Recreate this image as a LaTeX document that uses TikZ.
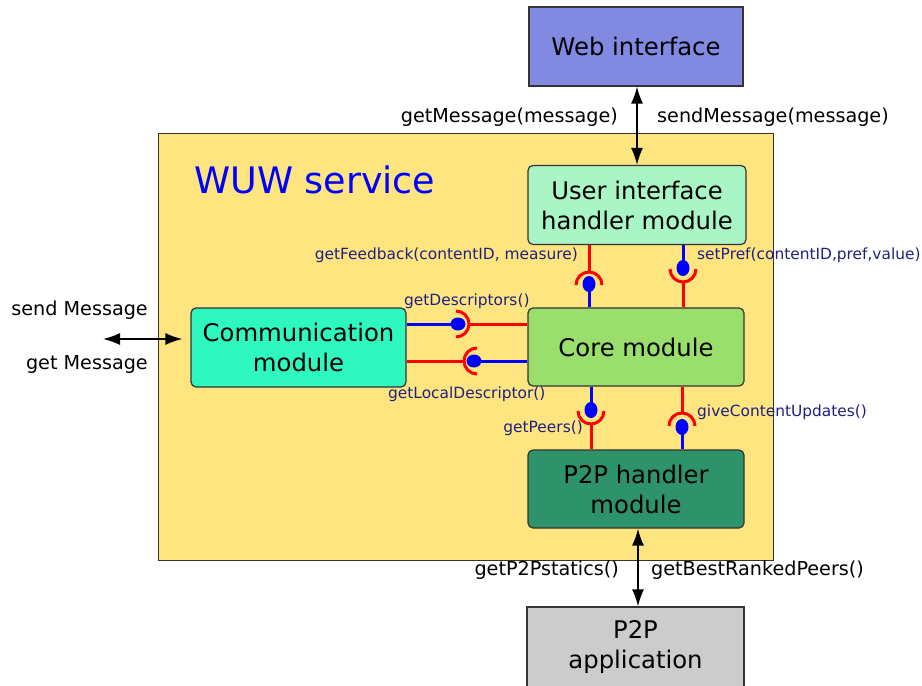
\documentclass[tikz,border=0pt]{standalone}
\usepackage{fontspec}
\setmainfont{DejaVu Sans}
\usetikzlibrary{arrows.meta}
\definecolor{webc}{HTML}{8189E1}
\definecolor{wuwc}{HTML}{FFE580}
\definecolor{uic}{HTML}{AAF5C6}
\definecolor{corec}{HTML}{9ADE6C}
\definecolor{commc}{HTML}{2EF8C0}
\definecolor{p2phc}{HTML}{2E936A}
\definecolor{p2pac}{HTML}{CCCCCC}
\definecolor{navy}{HTML}{202080}
\definecolor{edge}{HTML}{333333}
\begin{document}
\begin{tikzpicture}[x=1pt,y=-1pt,
  box/.style={draw=edge, line width=1.2pt, align=center, inner sep=0pt,
    font=\fontsize{24.3}{30}\selectfont},
  rbox/.style={box, rounded corners=5pt},
  lbl/.style={inner sep=0pt, font=\fontsize{19.2}{23}\selectfont},
  ilbl/.style={inner sep=0pt, text=navy, font=\fontsize{15.4}{18}\selectfont},
  biarrow/.style={line width=1.6pt, {Latex[length=17pt,width=12pt]}-{Latex[length=17pt,width=12pt]}},
  req/.style={draw=red, line width=3pt},
  prov/.style={draw=blue, line width=3pt},
  ball/.style={fill=blue}]
\useasboundingbox (0,0) rectangle (922,686);
\clip (0,0) rectangle (922,686);
% outer service box
\node[draw=edge, line width=1pt, fill=wuwc, minimum width=615pt, minimum height=427pt, inner sep=0pt] (wuw) at (465.5,346.5) {};
\node[anchor=west, inner sep=0pt, text=blue, font=\fontsize{36.5}{40}\selectfont] (wuwt) at (194,180) {WUW service};
% modules
\node[box, fill=webc, minimum width=214pt, minimum height=79pt] (web) at (636,46.5) {Web interface};
\node[rbox, fill=uic, minimum width=218pt, minimum height=79pt] (ui) at (637,205) {User interface\\handler module};
\node[rbox, fill=corec, minimum width=216pt, minimum height=78pt] (core) at (636,347) {Core module};
\node[rbox, fill=commc, minimum width=215pt, minimum height=79pt] (comm) at (298.5,347.5) {Communication\\module};
\node[rbox, fill=p2phc, minimum width=216pt, minimum height=78pt] (p2ph) at (636,489) {P2P handler\\module};
\node[box, fill=p2pac, minimum width=217pt, minimum height=81pt] (p2pa) at (635.5,647.5) {P2P\\application};
% external arrows
\draw[biarrow] (web.south -| 637,0) -- (ui.north -| 637,0);
\draw[biarrow] (p2ph.south -| 638,0) -- (p2pa.north -| 638,0);
\coordinate (extL) at (103,339);
\draw[biarrow, shorten >=8pt] (extL) -- (extL -| comm.west);
% external labels
\node[lbl, anchor=east] (lgm) at (618,117) {getMessage(message)};
\node[lbl, anchor=west] (lsm) at (657,117) {sendMessage(message)};
\node[lbl, anchor=east] (lsend) at (148,310) {send Message};
\node[lbl, anchor=east] (lget) at (148,364) {get Message};
\node[lbl, anchor=east] (lp2ps) at (619,570) {getP2Pstatics()};
\node[lbl, anchor=west] (lbest) at (651,570) {getBestRankedPeers()};
% interface labels
\node[ilbl, anchor=east] (lfb) at (578,255) {getFeedback(contentID, measure)};
\node[ilbl, anchor=west] (lsp) at (697,255) {setPref(contentID,pref,value)};
\node[ilbl, anchor=west] (lgd) at (404,301) {getDescriptors()};
\node[ilbl, anchor=west] (lgld) at (388,394) {getLocalDescriptor()};
\node[ilbl, anchor=east] (lgp) at (583,428) {getPeers()};
\node[ilbl, anchor=west] (lgcu) at (697,412) {giveContentUpdates()};
% --- interfaces: UI <-> Core (left: getFeedback)
\coordinate (b1) at (589,284);
\draw[req] (ui.south -| b1) -- (589,272);
\draw[prov] (b1) -- (core.north -| b1);
\draw[req] (576,285) arc[start angle=180, end angle=0, radius=13pt];
\fill[ball] (b1) ellipse[x radius=6.5pt, y radius=8pt];
% UI <-> Core (right: setPref)
\coordinate (b2) at (683,268);
\draw[prov] (ui.south -| b2) -- (b2);
\draw[req] (683,282) -- (core.north -| b2);
\draw[req] (670,269) arc[start angle=180, end angle=360, radius=13pt];
\fill[ball] (b2) ellipse[x radius=6.5pt, y radius=8pt];
% Comm <-> Core (upper: getDescriptors)
\coordinate (b3) at (458,324);
\draw[prov] (comm.east |- b3) -- (b3);
\draw[req] (469,324) -- (core.west |- b3);
\draw[req] (456,311) arc[start angle=90, end angle=-90, radius=13pt];
\fill[ball] (b3) ellipse[x radius=7.5pt, y radius=6.5pt];
% Comm <-> Core (lower: getLocalDescriptor)
\coordinate (b4) at (474,361);
\draw[req] (comm.east |- b4) -- (464,361);
\draw[prov] (b4) -- (core.west |- b4);
\draw[req] (477,348) arc[start angle=90, end angle=270, radius=13pt];
\fill[ball] (b4) ellipse[x radius=7.5pt, y radius=6.5pt];
% Core <-> P2P handler (left: getPeers)
\coordinate (b5) at (591,410);
\draw[prov] (core.south -| b5) -- (b5);
\draw[req] (591,424) -- (p2ph.north -| b5);
\draw[req] (578,411) arc[start angle=180, end angle=360, radius=13pt];
\fill[ball] (b5) ellipse[x radius=6.5pt, y radius=8pt];
% Core <-> P2P handler (right: giveContentUpdates)
\coordinate (b6) at (682,427);
\draw[req] (core.south -| b6) -- (682,413);
\draw[prov] (b6) -- (p2ph.north -| b6);
\draw[req] (669,426) arc[start angle=180, end angle=0, radius=13pt];
\fill[ball] (b6) ellipse[x radius=6.5pt, y radius=8pt];
\end{tikzpicture}
\end{document}
